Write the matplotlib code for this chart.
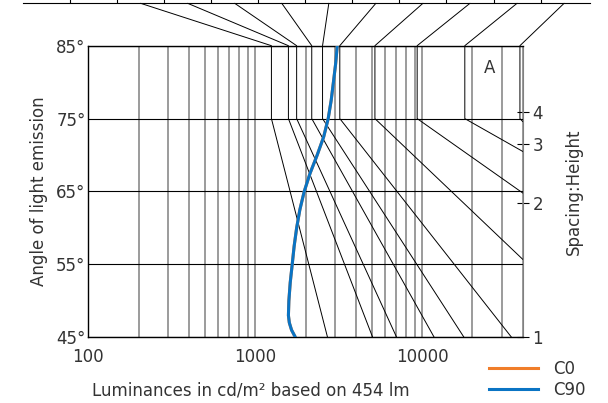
import numpy as np
import matplotlib.pyplot as plt
from matplotlib.patches import ConnectionPatch
from matplotlib.ticker import LogLocator, NullFormatter

# axes ticks
angle_ticks = [45, 55, 65, 75, 85]
angle_labels = ['45°', '55°', '65°', '75°', '85°']
lum_ticks = [100, 1000, 10000]
lum_labels = ['100', '1000', '10000']
ratio_ticks = [1, 2, 3, 4]

# luminance curve (cd/m2) against angle of emission
c_angle = [45, 46, 47, 48, 50, 52.5, 55, 57.5, 60, 62.5, 65, 67.5, 70, 72.5, 75, 77.5, 80, 82.5, 85]
c90_lum = [1740, 1650, 1600, 1580, 1590, 1620, 1665, 1710, 1770, 1850, 1965, 2130, 2350, 2570, 2735, 2850, 2940, 3030, 3100]
c0_lum = list(c90_lum)  # C0 lies under C90

# limit curves: vertical from 85 to 75 deg, then straight to the end point
lim_top = [1250, 1580, 1770, 2180, 2530, 3210, 5210, 9330, 18000, 38500]
lim_end = [2710, 5050, 7030, 11800, 17800, 34300, 40000, 40000, 40000, 40000]
lim_end_ang = [45, 45, 45, 45, 45, 45, 55.7, 64.8, 70.5, 74.6]
knee_ang = 75

# scale above the chart
scale_ticks = list(range(11))
scale_pos = [1.5, 2.5, 3.5, 4.5, 5.5, 6.5, 7.5, 8.5, 9.5, 10.5]

txt = '#333333'
grey = '#808080'
plt.rcParams['font.size'] = 12

fig = plt.figure(figsize=(6.08, 4.03), dpi=100)
ax = fig.add_axes([88.3 / 608, 1 - 337.3 / 403, (522.7 - 88.3) / 608, (337.3 - 45.7) / 403])
ax.set_xscale('log')
ax.set_xlim(100, 40000)
ax.set_ylim(45, 85)

ax.set_xticks(lum_ticks)
ax.set_xticklabels(lum_labels, color=txt)
ax.xaxis.set_minor_locator(LogLocator(base=10, subs=np.arange(2, 10)))
ax.xaxis.set_minor_formatter(NullFormatter())
ax.set_yticks(angle_ticks)
ax.set_yticklabels(angle_labels, color=txt)
ax.tick_params(which='both', length=0)
ax.tick_params(axis='x', pad=8)
ax.tick_params(axis='y', pad=2)
ax.grid(True, axis='x', which='both', color=grey, lw=1.1)
ax.grid(True, axis='y', color='black', lw=0.8)
ax.set_axisbelow(True)
for s in ['left', 'top', 'bottom']:
    ax.spines[s].set_linewidth(1.0)
ax.spines['right'].set_color(grey)

# limit curves
for lt, le, la in zip(lim_top, lim_end, lim_end_ang):
    ax.plot([lt, lt, le], [85, knee_ang, la], color='black', lw=0.7, zorder=2)

ln0, = ax.plot(c0_lum, c_angle, color='#f07d2a', lw=2.2, label='C0', zorder=3)
ln90, = ax.plot(c90_lum, c_angle, color='#0a74c4', lw=2.2, label='C90', zorder=4)

ax.text(25200, 81.9, 'A', ha='center', va='center', color=txt, fontsize=12)

ax.set_xlabel('Luminances in cd/m² based on 454 lm', loc='left', color=txt, labelpad=11)
ax.xaxis.label.set_x(0.008)
ax.set_ylabel('Angle of light emission', color=txt, labelpad=6)

# spacing : height scale on the right
sec = ax.secondary_yaxis('right', functions=(lambda a: np.tan(np.radians(a)),
                                             lambda r: np.degrees(np.arctan(r))))
sec.set_yticks(ratio_ticks)
sec.set_yticklabels([str(r) for r in ratio_ticks], color=txt)
sec.tick_params(direction='inout', length=8, width=0.8, pad=3)
sec.spines['right'].set_visible(False)
sec.set_ylabel('Spacing:Height', color=txt, labelpad=16)

# scale above the chart, its labels are outside the picture
top = fig.add_axes([22.7 / 608, 1 - 3.3 / 403, (590 - 22.7) / 608, 0.002])
top.set_xlim(-1.005, 11.05)
top.set_ylim(0, 1)
top.set_xticks(scale_ticks)
top.set_xticklabels([])
top.set_yticks([])
top.tick_params(axis='x', direction='in', length=4, width=0.8)
for s in ['left', 'right', 'top']:
    top.spines[s].set_visible(False)
top.spines['bottom'].set_linewidth(0.8)
top.patch.set_visible(False)

for p, lt in zip(scale_pos, lim_top):
    con = ConnectionPatch(xyA=(p, 0), coordsA=top.transData,
                          xyB=(lt, 85), coordsB=ax.transData,
                          color='black', lw=0.7)
    fig.add_artist(con)

fig.legend(handles=[ln0, ln90], loc='center', bbox_to_anchor=(537 / 608, 1 - 379.5 / 403),
           frameon=False, handlelength=2.95, handletextpad=0.9, labelspacing=0.2,
           borderpad=0, labelcolor=txt, fontsize=12)

fig.savefig('out.png', dpi=100)
